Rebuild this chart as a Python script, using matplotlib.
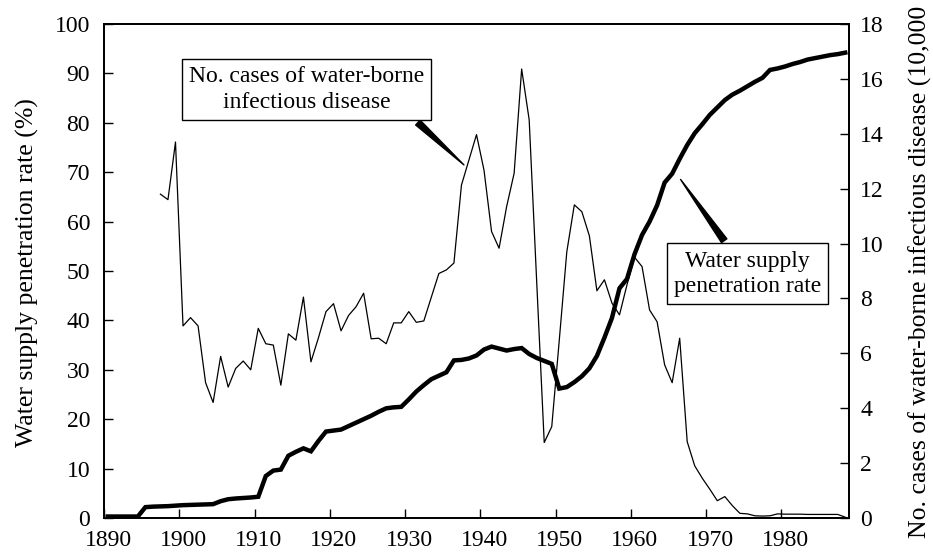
import numpy as np
import matplotlib
matplotlib.use("Agg")
import matplotlib.pyplot as plt
from matplotlib.transforms import ScaledTranslation

plt.rcParams["font.family"] = ["Liberation Serif", "DejaVu Serif"]

# water supply penetration rate (%), 1890-1988
rate_years = list(range(1890, 1989))
rate = [0.3, 0.3, 0.3, 0.3, 0.3, 2.2, 2.3, 2.35, 2.4, 2.5,
        2.6, 2.65, 2.7, 2.75, 2.8, 3.4, 3.8, 3.95, 4.05, 4.15,
        4.3, 8.5, 9.6, 9.8, 12.6, 13.4, 14.1, 13.5, 15.6, 17.5,
        17.7, 17.9, 18.6, 19.3, 20.0, 20.7, 21.5, 22.2, 22.4, 22.5,
        24.0, 25.6, 26.9, 28.1, 28.8, 29.5, 31.9, 32.0, 32.3, 32.9,
        34.1, 34.7, 34.3, 33.9, 34.2, 34.4, 33.2, 32.4, 31.8, 31.2,
        26.2, 26.5, 27.5, 28.7, 30.3, 32.8, 36.5, 40.5, 46.5, 48.4,
        53.4, 57.3, 60.0, 63.3, 67.9, 69.7, 72.7, 75.5, 77.9, 79.7,
        81.6, 83.1, 84.6, 85.7, 86.5, 87.4, 88.3, 89.1, 90.7, 91.0,
        91.4, 91.9, 92.3, 92.8, 93.1, 93.4, 93.7, 93.9, 94.2]

# no. cases of water-borne infectious disease (10,000), 1897-1988
case_years = list(range(1897, 1989))
cases = [11.8, 11.6, 13.7,
         7.0, 7.3, 7.0, 4.93, 4.21, 5.89, 4.77, 5.45, 5.72, 5.4,
         6.91, 6.35, 6.3, 4.84, 6.71, 6.48, 8.05, 5.69, 6.57, 7.52,
         7.81, 6.82, 7.38, 7.7, 8.19, 6.53, 6.55, 6.35, 7.11, 7.11,
         7.52, 7.13, 7.18, 8.05, 8.91, 9.04, 9.29, 12.13, 13.05, 13.97,
         12.67, 10.44, 9.83, 11.34, 12.56, 16.36, 14.51, 8.6, 2.75, 3.33,
         6.48, 9.7, 11.41, 11.16, 10.28, 8.28, 8.68, 7.83, 7.4, 8.5,
         9.5, 9.16, 7.58, 7.15, 5.58, 4.93, 6.55, 2.78, 1.9, 1.45,
         1.05, 0.63, 0.78, 0.45, 0.17, 0.15, 0.08, 0.07, 0.08, 0.15,
         0.14, 0.14, 0.14, 0.13, 0.13, 0.13, 0.13, 0.13, 0.03]

fig = plt.figure(figsize=(9.33, 5.54), dpi=100)
ax1 = fig.add_axes([104 / 933, 36 / 554, 745 / 933, 494 / 554])
ax2 = ax1.twinx()

# points sit at the centre of each year's slot
ax2.plot(np.array(case_years) + 0.5, cases, color="black", lw=0.9)
ax1.plot(np.array(rate_years) + 0.5, rate, color="black", lw=3.2,
         solid_joinstyle="miter")
ax1.set_zorder(ax2.get_zorder() + 1)
ax1.patch.set_visible(False)

ax1.set_xlim(1890, 1989)
ax1.set_ylim(0, 100)
ax2.set_ylim(0, 18)
ax1.set_xticks(range(1890, 1981, 10))
ax1.set_yticks(range(0, 101, 10))
ax2.set_yticks(range(0, 19, 2))

for a in (ax1, ax2):
    for s in a.spines.values():
        s.set_linewidth(1.3)
ax1.tick_params(axis="both", direction="in", length=6.5, width=1,
                labelsize=17, top=False, right=False)
ax1.tick_params(axis="y", pad=10)
ax1.tick_params(axis="x", pad=9)
ax2.tick_params(axis="y", direction="in", length=6.5, width=1,
                labelsize=17, pad=8)
for lab in ax1.get_xticklabels():
    lab.set_transform(lab.get_transform() + ScaledTranslation(0.04, 0, fig.dpi_scale_trans))

fig.text(27 / 933, 1 - 273 / 554, "Water supply penetration rate (%)",
         rotation=90, ha="center", va="center", fontsize=18.5)
# the reference cuts this label at the top edge
fig.text(920 / 933, 16 / 554,
         "No. cases of water-borne infectious disease (10,000 cases)",
         rotation=90, ha="center", va="bottom", fontsize=18.5)

box = dict(boxstyle="square,pad=0.3", fc="white", ec="black", lw=1)
ax1.annotate("No. cases of water-borne\ninfectious disease",
             xy=(1938.1, 71.1), xytext=(1916.9, 86.7),
             ha="center", va="center", fontsize=17, linespacing=1.3,
             bbox=box,
             arrowprops=dict(arrowstyle="wedge,tail_width=0.28",
                             fc="black", ec="black", relpos=(0.93, 0)))
ax1.annotate("Water supply\npenetration rate",
             xy=(1966.4, 69.0), xytext=(1975.5, 49.4),
             ha="center", va="center", fontsize=17, linespacing=1.3,
             bbox=box,
             arrowprops=dict(arrowstyle="wedge,tail_width=0.28",
                             fc="black", ec="black", relpos=(0.39, 1)))

fig.savefig("out.png", dpi=100)
